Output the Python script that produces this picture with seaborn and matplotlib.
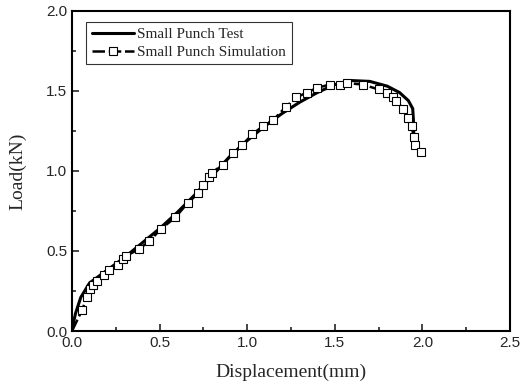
import matplotlib
matplotlib.use("Agg")
import matplotlib.pyplot as plt
import seaborn as sns
from matplotlib.ticker import MultipleLocator

test_x = [0.0, 0.01, 0.02, 0.05, 0.10, 0.20, 0.30, 0.40, 0.50, 0.60, 0.70, 0.80, 0.90, 1.00,
          1.10, 1.20, 1.30, 1.40, 1.50, 1.60, 1.70, 1.80, 1.87, 1.92, 1.945, 1.95, 1.952]
test_y = [0.0, 0.06, 0.11, 0.21, 0.30, 0.38, 0.46, 0.55, 0.64, 0.74, 0.85, 0.97, 1.09, 1.19,
          1.28, 1.36, 1.43, 1.49, 1.54, 1.565, 1.56, 1.53, 1.49, 1.44, 1.39, 1.30, 1.16]

sim_x = [0.0, 0.057, 0.085, 0.10, 0.12, 0.14, 0.18, 0.21, 0.26, 0.29, 0.31, 0.38, 0.44, 0.51,
         0.59, 0.66, 0.72, 0.75, 0.78, 0.80, 0.86, 0.92, 0.97, 1.03, 1.09, 1.15, 1.22, 1.28,
         1.34, 1.40, 1.47, 1.53, 1.57, 1.66, 1.75, 1.80, 1.83, 1.85, 1.89, 1.92, 1.94, 1.95,
         1.96, 1.99]
sim_y = [0.0, 0.13, 0.21, 0.26, 0.29, 0.31, 0.35, 0.38, 0.41, 0.45, 0.47, 0.51, 0.56, 0.64,
         0.71, 0.80, 0.86, 0.91, 0.96, 0.99, 1.04, 1.11, 1.16, 1.23, 1.28, 1.32, 1.40, 1.46,
         1.49, 1.52, 1.54, 1.54, 1.55, 1.54, 1.51, 1.49, 1.46, 1.44, 1.39, 1.33, 1.28, 1.21,
         1.16, 1.12]

sns.set_style("ticks")
plt.rcParams['font.family'] = ['Liberation Sans', 'DejaVu Sans']

fig = plt.figure(figsize=(5.23, 3.87), dpi=100)
ax = fig.add_axes([0.1377, 0.1447, 0.8373, 0.8269])

sns.lineplot(x=test_x, y=test_y, ax=ax, sort=False, color='black', linewidth=2.2,
             label='Small Punch Test', estimator=None)
sns.lineplot(x=sim_x, y=sim_y, ax=ax, sort=False, color='black', linewidth=1.8,
             linestyle=(0, (5, 1.5)), marker='s', markersize=6, markerfacecolor='white',
             markeredgecolor='black', markeredgewidth=0.8,
             markevery=list(range(1, len(sim_x))),
             label='Small Punch Simulation', estimator=None)

ax.set_xlim(0, 2.5)
ax.set_ylim(0, 2.0)
ax.xaxis.set_major_locator(MultipleLocator(0.5))
ax.xaxis.set_minor_locator(MultipleLocator(0.25))
ax.yaxis.set_major_locator(MultipleLocator(0.5))
ax.yaxis.set_minor_locator(MultipleLocator(0.25))
ax.tick_params(which='both', direction='in', top=False, right=False, width=1.2, labelsize=11)
ax.tick_params(which='major', length=5)
ax.tick_params(which='minor', length=3)
for s in ax.spines.values():
    s.set_linewidth(1.5)
    s.set_color('black')
    s.set_visible(True)

ax.set_xlabel('Displacement(mm)', family=['Liberation Serif'], fontsize=14, labelpad=10)
ax.set_ylabel('Load(kN)', family=['Liberation Serif'], fontsize=14, labelpad=14)

leg = ax.legend(loc='upper left', bbox_to_anchor=(0.015, 0.99), prop={'family': 'Liberation Serif', 'size': 11},
                frameon=True, fancybox=False, edgecolor='black', handlelength=2.8,
                borderpad=0.35, labelspacing=0.3, handletextpad=0.2)
leg.get_frame().set_linewidth(0.8)

fig.savefig('out.png', dpi=100)
